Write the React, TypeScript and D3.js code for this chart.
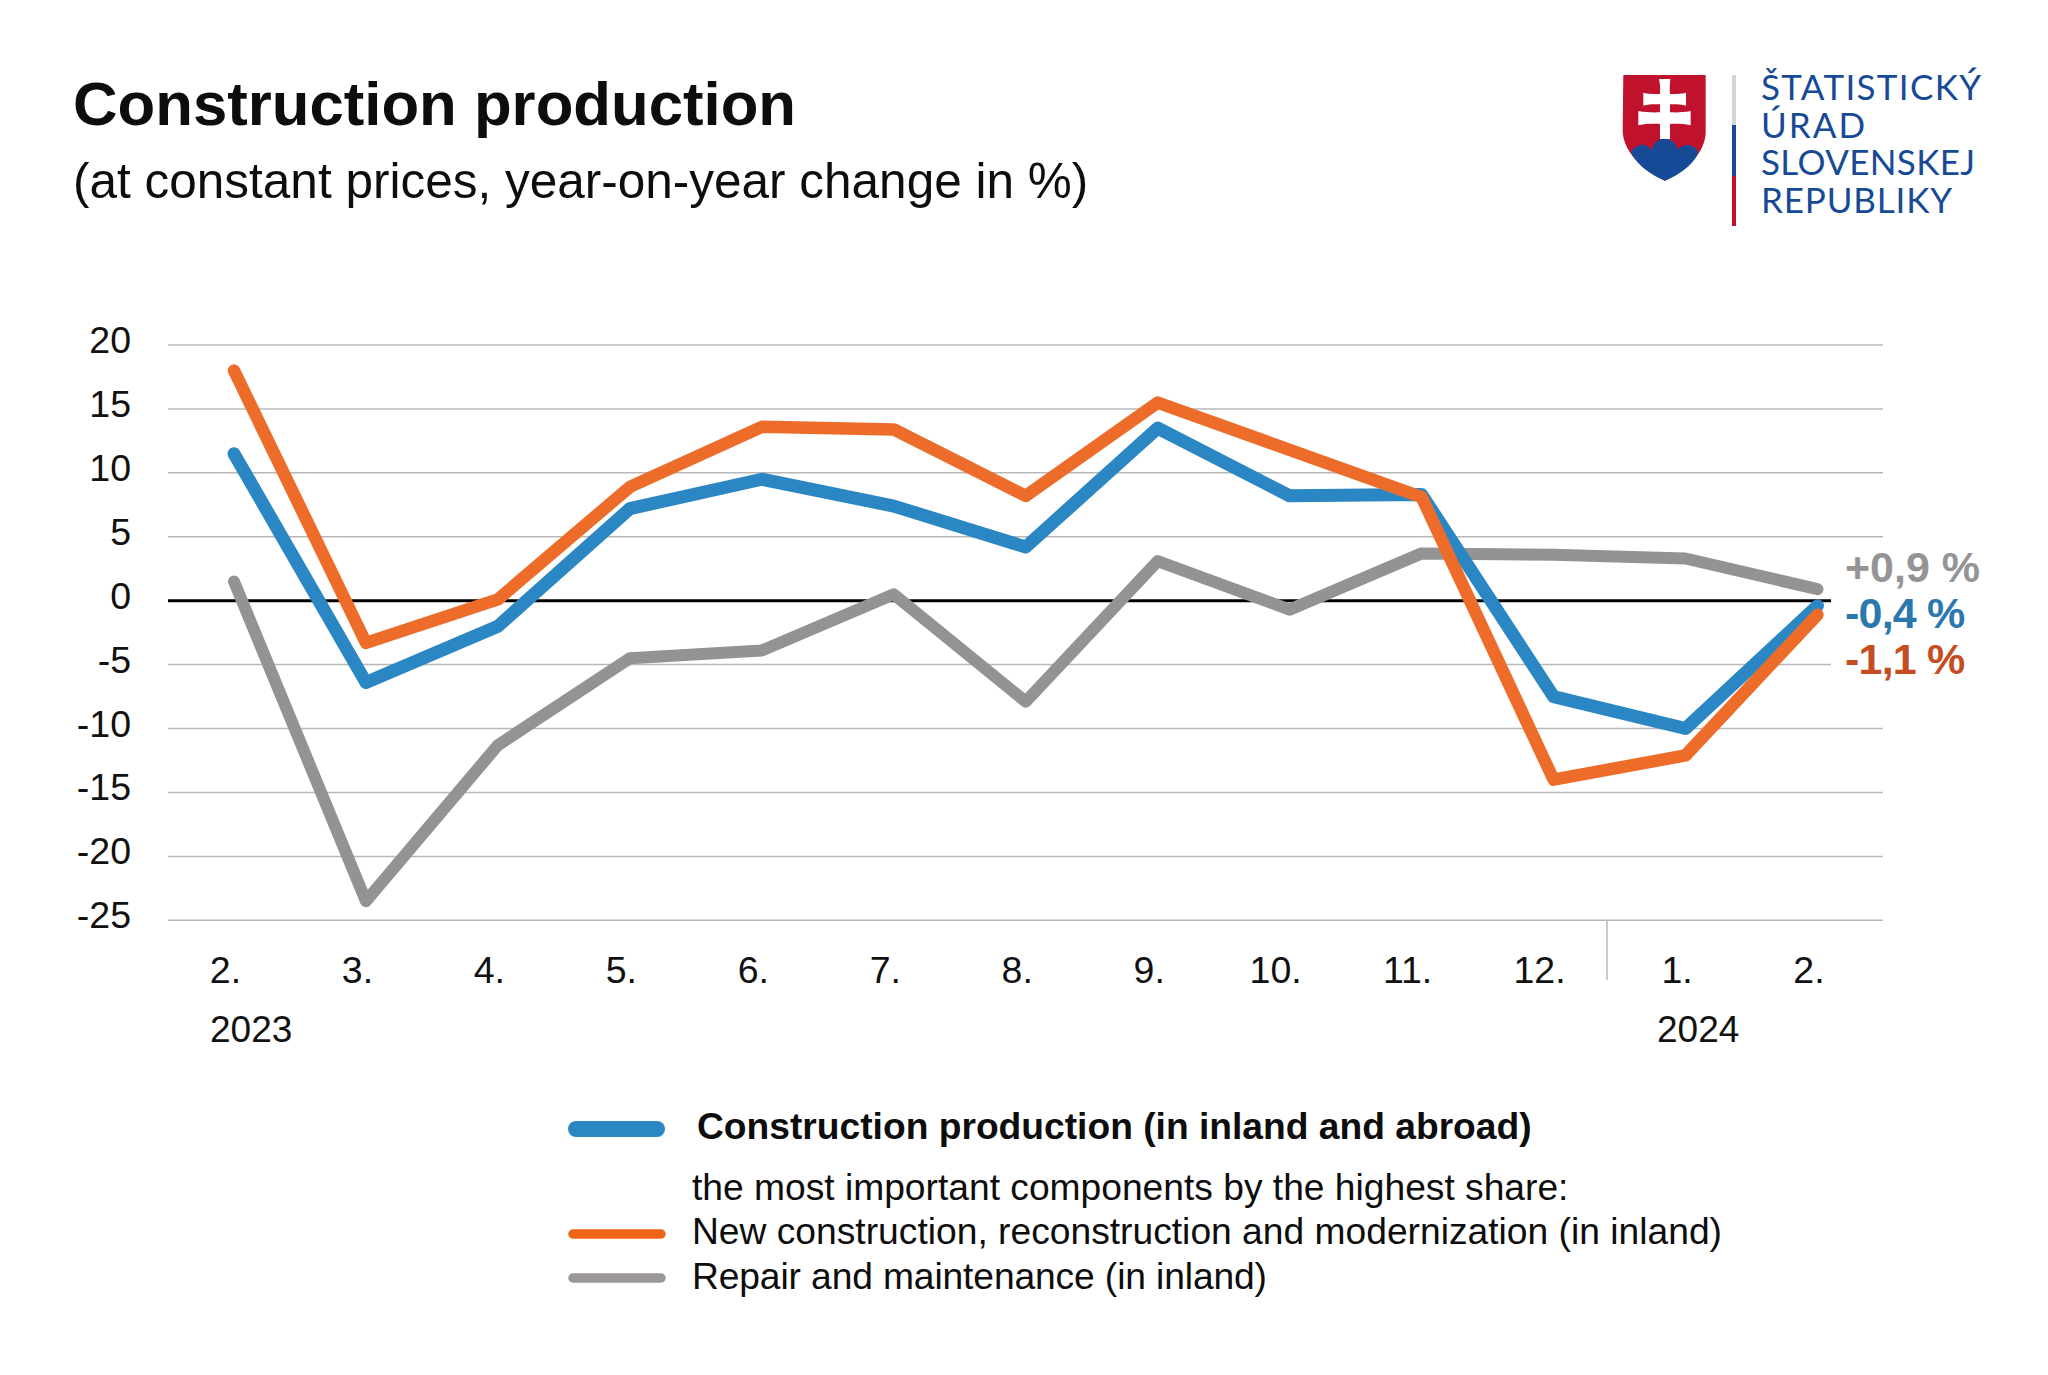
import React from "react";
import * as d3 from "d3";

const months = ["2.", "3.", "4.", "5.", "6.", "7.", "8.", "9.", "10.", "11.", "12.", "1.", "2."];
const yTicks = [20, 15, 10, 5, 0, -5, -10, -15, -20, -25];
const production = [11.5, -6.4, -2.0, 7.2, 9.5, 7.4, 4.2, 13.5, 8.2, 8.3, -7.5, -10.0, -0.4];
const newConstruction = [18.0, -3.3, 0.1, 8.9, 13.6, 13.4, 8.2, 15.5, 11.8, 8.1, -14.0, -12.1, -1.1];
const repair = [1.5, -23.5, -11.3, -4.5, -3.9, 0.5, -7.9, 3.1, -0.7, 3.7, 3.6, 3.3, 0.9];
const endLabels = ["+0,9 %", "-0,4 %", "-1,1 %"];
const logoLines = ["ŠTATISTICKÝ", "ÚRAD", "SLOVENSKEJ", "REPUBLIKY"];
const logoWidths = [220, 104, 214, 191];

const BLUE = "#2a87c3";
const ORANGE = "#ee6c2a";
const GRAY = "#929392";
const GRID = "#b8b8b8";
const FONT = "'Liberation Sans', Arial, sans-serif";

const x = d3.scaleLinear().domain([0, 12]).range([234, 1817.5]);
const y = d3.scaleLinear().domain([20, -25]).range([345, 920.3]);
const line = d3.line<number>().x((_, i) => x(i)).y((d) => y(d));

function Logo() {
  return (
    <g>
      <g transform="translate(1550,40) scale(0.3333)">
        <path d="M220 105 H467 V270 C470 330 420 385 345 422 C270 385 218 330 218 270 Z" fill="#c0122c" />
        <path d="M243 338 C250 320 270 312 285 315 C295 318 300 325 305 330 C310 305 330 296 345 296 C360 296 378 305 383 330 C388 322 398 315 410 315 C425 313 440 325 446 338 C425 380 385 405 345 422 C305 405 265 380 243 338 Z" fill="#174a96" />
        <path d="M327 117 H361 C359 135 359 148 360 162 C375 163 392 162 408 158 V197 C392 193 375 192 360 193 V217 C382 218 402 217 422 213 V256 C402 252 382 251 360 252 V297 H330 V252 C308 251 286 252 265 256 V213 C286 217 308 218 330 217 V193 C312 192 296 193 280 197 V158 C296 162 312 163 330 162 C331 148 331 135 327 117 Z" fill="#ffffff" />
      </g>
      <rect x={1732} y={75} width={4} height={50} fill="#d4d4d4" />
      <rect x={1732} y={125} width={4} height={51} fill="#174a96" />
      <rect x={1732} y={176} width={4} height={50} fill="#c0122c" />
      {logoLines.map((t, i) => (
        <text key={t} x={1761} y={100 + i * 37.7} fontFamily="Lato, sans-serif" fontSize={35} textLength={logoWidths[i]} lengthAdjust="spacing" fill="#174a96">{t}</text>
      ))}
    </g>
  );
}

export default function App() {
  return (
    <svg width={2048} height={1375} viewBox="0 0 2048 1375" style={{ position: "absolute", left: 0, top: 0, display: "block", background: "#fff" }} fontFamily={FONT}>
      <text x={73} y={125} fontSize={61.7} fontWeight="bold" fill="#0d0d0d">Construction production</text>
      <text x={73} y={198} fontSize={49.5} fill="#0d0d0d">(at constant prices, year-on-year change in %)</text>
      <Logo />

      {yTicks.filter((t) => t !== 0).map((t) => (
        <line key={t} x1={168} x2={t === -5 ? 1831 : 1883} y1={y(t)} y2={y(t)} stroke={GRID} strokeWidth={1.5} />
      ))}
      <line x1={168} x2={1831} y1={y(0)} y2={y(0)} stroke="#000" strokeWidth={3} />
      {yTicks.map((t) => (
        <text key={t} x={131} y={y(t) + 8} textAnchor="end" fontSize={37.5} fill="#111">{t}</text>
      ))}

      <line x1={1607} x2={1607} y1={y(-25)} y2={980} stroke={GRID} strokeWidth={1.5} />
      {months.map((m, i) => (
        <text key={i} x={x(i) - (m.length > 2 ? 14 : 8.5)} y={983} textAnchor="middle" fontSize={37.5} fill="#111">{m}</text>
      ))}
      <text x={210} y={1042} fontSize={37} fill="#111">2023</text>
      <text x={1657} y={1042} fontSize={37} fill="#111">2024</text>

      {[{ v: repair, c: GRAY, w: 12 }, { v: production, c: BLUE, w: 13 }, { v: newConstruction, c: ORANGE, w: 12.5 }].map(({ v, c, w }) => (
        <path key={c} d={line(v) ?? ""} fill="none" stroke={c} strokeWidth={w} strokeLinecap="round" strokeLinejoin="round" />
      ))}

      <text x={1845} y={582} fontSize={43} fontWeight="bold" fill="#949494">{endLabels[0]}</text>
      <text x={1845} y={628} fontSize={43} letterSpacing={-0.8} fontWeight="bold" fill="#2a78ae">{endLabels[1]}</text>
      <text x={1845} y={674} fontSize={43} letterSpacing={-0.8} fontWeight="bold" fill="#c44d21">{endLabels[2]}</text>

      <line x1={576} x2={657} y1={1129} y2={1129} stroke={BLUE} strokeWidth={16} strokeLinecap="round" />
      <line x1={573} x2={661} y1={1234} y2={1234} stroke="#ee6518" strokeWidth={9.5} strokeLinecap="round" />
      <line x1={573} x2={661} y1={1278} y2={1278} stroke="#9c9897" strokeWidth={9.5} strokeLinecap="round" />
      <text x={697} y={1139} fontSize={37.2} fontWeight="bold" fill="#0d0d0d">Construction production (in inland and abroad)</text>
      <text x={692} y={1200} fontSize={37.2} fill="#0d0d0d">the most important components by the highest share:</text>
      <text x={692} y={1244} fontSize={37.2} textLength={1030} lengthAdjust="spacing" fill="#0d0d0d">New construction, reconstruction and modernization (in inland)</text>
      <text x={692} y={1289} fontSize={37.2} textLength={575} lengthAdjust="spacing" fill="#0d0d0d">Repair and maintenance (in inland)</text>
    </svg>
  );
}
